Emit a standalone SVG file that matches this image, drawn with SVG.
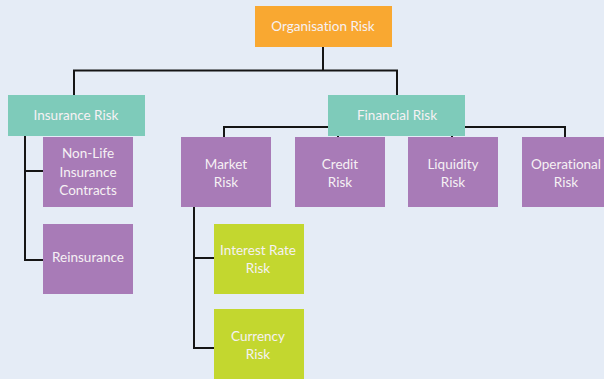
<svg xmlns="http://www.w3.org/2000/svg" width="604" height="379" viewBox="0 0 604 379">
  <style>
    .bg { fill: #e5ecf6; }
    .org { fill: #f9a831; }
    .l1 { fill: #7ecbba; }
    .l2 { fill: #a87bb7; }
    .l3 { fill: #c3d72f; }
    .lbl { font-family: Lato, "Noto Sans", sans-serif; font-size: 13.5px; fill: #f6f1f4; text-anchor: middle; dominant-baseline: central; font-variant-ligatures: none; }
    .wire { fill: none; stroke: #151515; stroke-width: 2; }
  </style>
  <rect class="bg" x="0" y="0" width="604" height="379"/>

  <g id="connectors">
    <path class="wire" d="M323 47 V70.5 M74 95 V70.5 H397 V95"/>
    <path class="wire" d="M25 136 V260 H43 M25 171 H43"/>
    <path class="wire" d="M398 136 V127 M224 137 V127 H565 V137 M338 127 V137 M452 127 V137"/>
    <path class="wire" d="M194 207 V348 H214 M194 258 H214"/>
  </g>

  <g id="organisation-risk">
    <rect class="org" x="255" y="6" width="137" height="41"/>
    <text class="lbl" x="323" y="26">Organisation Risk</text>
  </g>
  <g id="insurance-risk">
    <rect class="l1" x="8" y="95" width="137" height="41"/>
    <text class="lbl" x="76" y="115">Insurance Risk</text>
  </g>
  <g id="financial-risk">
    <rect class="l1" x="328" y="95" width="137" height="41"/>
    <text class="lbl" x="397" y="115">Financial Risk</text>
  </g>
  <g id="non-life">
    <rect class="l2" x="43" y="137" width="90" height="70"/>
    <text class="lbl" x="88" y="153">Non-Life</text>
    <text class="lbl" x="88" y="171.5">Insurance</text>
    <text class="lbl" x="88" y="190">Contracts</text>
  </g>
  <g id="reinsurance">
    <rect class="l2" x="43" y="224" width="90" height="70"/>
    <text class="lbl" x="88" y="257">Reinsurance</text>
  </g>
  <g id="market-risk">
    <rect class="l2" x="181" y="137" width="90" height="70"/>
    <text class="lbl" x="226" y="164">Market</text>
    <text class="lbl" x="226" y="182">Risk</text>
  </g>
  <g id="credit-risk">
    <rect class="l2" x="295" y="137" width="90" height="70"/>
    <text class="lbl" x="340" y="164">Credit</text>
    <text class="lbl" x="340" y="182">Risk</text>
  </g>
  <g id="liquidity-risk">
    <rect class="l2" x="408" y="137" width="90" height="70"/>
    <text class="lbl" x="453" y="164">Liquidity</text>
    <text class="lbl" x="453" y="182">Risk</text>
  </g>
  <g id="operational-risk">
    <rect class="l2" x="522" y="137" width="90" height="70"/>
    <text class="lbl" x="566" y="164">Operational</text>
    <text class="lbl" x="566" y="182">Risk</text>
  </g>
  <g id="interest-rate-risk">
    <rect class="l3" x="214" y="224" width="90" height="70"/>
    <text class="lbl" x="258" y="250">Interest Rate</text>
    <text class="lbl" x="258" y="268">Risk</text>
  </g>
  <g id="currency-risk">
    <rect class="l3" x="214" y="309" width="90" height="70"/>
    <text class="lbl" x="258" y="335.5">Currency</text>
    <text class="lbl" x="258" y="353.5">Risk</text>
  </g>
</svg>
